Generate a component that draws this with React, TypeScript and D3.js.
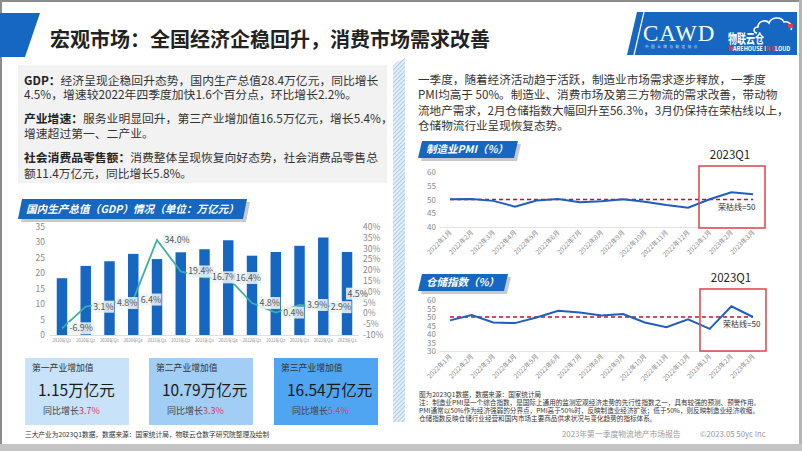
import React from 'react'
import * as d3 from 'd3'

// data
const gdpQuarters = [
  '2020年Q1', '2020年Q2', '2020年Q3', '2020年Q4',
  '2021年Q1', '2021年Q2', '2021年Q3', '2021年Q4',
  '2022年Q1', '2022年Q2', '2022年Q3', '2022年Q4',
  '2023年Q1',
]
const gdpValues = [18.4, 22.4, 23.9, 26.3, 24.6, 26.8, 27.8, 30.7, 25.7, 26.9, 28.9, 31.6, 26.9]
const gdpGrowth = [-6.9, 3.1, 4.8, 6.4, 34.0, 19.4, 16.7, 16.4, 4.8, 0.4, 3.9, 2.9, 4.5]
const gdpLeftTicks = [0, 5, 10, 15, 20, 25, 30, 35]
const gdpRightTicks = [-10, -5, 0, 5, 10, 15, 20, 25, 30, 35, 40]

const months = [
  '2022年1月', '2022年2月', '2022年3月', '2022年4月', '2022年5月', '2022年6月',
  '2022年7月', '2022年8月', '2022年9月', '2022年10月', '2022年11月', '2022年12月',
  '2023年1月', '2023年2月', '2023年3月',
]
const pmiValues = [50.1, 50.2, 49.5, 47.4, 49.6, 50.2, 49.0, 49.4, 50.1, 49.2, 48.0, 47.0, 50.1, 52.6, 51.9]
const pmiTicks = [40, 45, 50, 55, 60]
const warehouseValues = [48.0, 51.1, 46.8, 46.4, 49.7, 53.7, 52.7, 50.9, 51.7, 46.8, 44.0, 48.6, 43.0, 56.3, 50.0]
const warehouseTicks = [30, 35, 40, 45, 50, 55, 60]

const industryNames = ['第一产业增加值', '第二产业增加值', '第三产业增加值']
const industryValues = ['1.15', '10.79', '16.54']
const industryGrowth = ['3.7%', '3.3%', '5.4%']

const FONT = '"Noto Sans CJK SC", "Noto Sans", sans-serif'
const BLUE = '#1667c2'

function Banner({ x, y, w, h, text, size }) {
  const k = 4
  const pts = `${x + k},${y} ${x + w + k},${y} ${x + w},${y + h} ${x},${y + h}`
  const shadow = `${x + k + 3},${y + 3} ${x + w + k + 3},${y + 3} ${x + w + 3},${y + h + 3} ${x + 3},${y + h + 3}`
  return (
    <g>
      <polygon points={shadow} fill="#c9c9c9" />
      <polygon points={pts} fill={BLUE} />
      <text x={x + 8} y={y + h / 2 + size * 0.36} fill="#fff" fontSize={size} fontWeight="bold" fontStyle="italic">
        {text}
      </text>
    </g>
  )
}

function GdpChart() {
  const x = d3.scaleBand().domain(gdpQuarters).range([50.1, 358.9]).paddingInner(0.56).paddingOuter(0.28)
  const yL = d3.scaleLinear().domain([0, 35]).range([335, 227])
  const yR = d3.scaleLinear().domain([-10, 40]).range([335, 227])
  const cx = (q) => x(q) + x.bandwidth() / 2
  const line = d3.line<number>()
    .x((d, i) => cx(gdpQuarters[i]))
    .y((d) => yR(d))
  const last = gdpGrowth.length - 1
  return (
    <g>
      <Banner x={18} y={199} w={225} h={20} text="国内生产总值（GDP）情况（单位：万亿元）" size={10.6} />
      <line x1={50} x2={359} y1={335.5} y2={335.5} stroke="#ddd" />
      {gdpLeftTicks.map((t) => (
        <text key={t} x={45} y={yL(t) + 3} textAnchor="end" fontSize={8.5} fill="#8a8a8a">{t}</text>
      ))}
      {gdpRightTicks.map((t) => (
        <text key={t} x={363} y={yR(t) + 3} fontSize={8.5} fill="#8a8a8a">{t}%</text>
      ))}
      {gdpValues.map((v, i) => (
        <rect key={i} x={x(gdpQuarters[i])} y={yL(v)} width={x.bandwidth()} height={335 - yL(v)} fill={BLUE} />
      ))}
      {gdpQuarters.map((q) => (
        <text key={q} x={cx(q)} y={342} textAnchor="middle" fontSize={4.2} fill="#888">{q}</text>
      ))}
      <path d={line(gdpGrowth)} fill="none" stroke="#3cb1a0" strokeWidth={1.8} />
      {gdpGrowth.map((v, i) => {
        const label = v.toFixed(1) + '%'
        const w = label.length * 4.8 + 3
        // the last label sits above its point, the others to the right
        const px = i === last ? cx(gdpQuarters[i]) - 1 : cx(gdpQuarters[i]) + 6
        const py = i === last ? yR(v) - 10 : yR(v)
        return (
          <g key={i}>
            <rect x={px} y={py - 6} width={w} height={12} fill="rgba(238,244,244,0.88)" />
            <text x={px + 1.5} y={py + 3} fontSize={8.8} fill="#555">{label}</text>
          </g>
        )
      })}
    </g>
  )
}

function IndexChart({ values, ticks, domain, top, bottom, banner, bannerY, bannerW, boxX, boxY, boxH, noteX, noteY }) {
  const x = d3.scalePoint().domain(months).range([450, 753])
  const y = d3.scaleLinear().domain(domain).range([bottom, top])
  const line = d3.line<number>()
    .x((d, i) => x(months[i]))
    .y((d) => y(d))
  return (
    <g>
      <Banner x={418} y={bannerY} w={bannerW} h={17} text={banner} size={10.5} />
      <line x1={440} x2={760} y1={bottom + 0.5} y2={bottom + 0.5} stroke="#e3e3e3" />
      {ticks.map((t) => (
        <text key={t} x={436} y={y(t) + 3} textAnchor="end" fontSize={8} fill="#8a8a8a">{t}</text>
      ))}
      {months.map((m) => (
        <text key={m} transform={`translate(${x(m) + 2},${bottom + 6}) rotate(-45)`} textAnchor="end" fontSize={6.5} fill="#8a8a8a">{m}</text>
      ))}
      <line x1={x(months[0])} x2={x(months[months.length - 1])} y1={y(50)} y2={y(50)} stroke="#c4122f" strokeWidth={1.4} strokeDasharray="4,3" />
      <path d={line(values)} fill="none" stroke="#1e5fbd" strokeWidth={2} />
      <rect x={boxX} y={boxY} width={66} height={boxH} fill="none" stroke="#e0404c" strokeWidth={1.5} />
      <text x={boxX + 31} y={boxY - 7} textAnchor="middle" fontSize={11.5} fill="#222">2023Q1</text>
      <text x={noteX} y={noteY} fontSize={8} fill="#333">荣枯线=50</text>
    </g>
  )
}

function Cloud() {
  return (
    <g fill="none" stroke="#fff" strokeWidth={1.6}>
      <path d="M757,33 C753,33 753,27 758,27 C758,21 766,19 769,23 C771,17 781,16 784,22 C789,21 793,25 791,30" />
      <rect x={788} y={24} width={5} height={4} fill="#e0404c" stroke="none" />
    </g>
  )
}

export default function App() {
  const boxXs = [25, 149, 274]
  const boxFills = ['#c8e2fa', '#a2cef6', '#4fa5f1']
  return (
    <div style={{ position: 'absolute', left: 0, top: 0 }}>
      <svg width={802} height={451} style={{ display: 'block', fontFamily: FONT }}>
        <defs>
          <pattern id="hatch" width={3} height={3} patternUnits="userSpaceOnUse" patternTransform="rotate(45)">
            <rect width={3} height={3} fill="#e4eff9" />
            <line x1={0} y1={0} x2={0} y2={3} stroke="#8fbce4" strokeWidth={1.4} />
          </pattern>
        </defs>
        <rect width={802} height={451} fill="#fff" />
        {/* frame */}
        <rect x={0} y={0} width={802} height={2} fill="#8c8c8c" />
        <rect x={0} y={0} width={2} height={451} fill="#8c8c8c" />
        <rect x={799} y={0} width={3} height={451} fill="#b5b5b5" />
        <rect x={0} y={444} width={802} height={7} fill="#c4c4c4" />

        {/* header */}
        <polygon points="0,13 40,13 25,57 0,57" fill={BLUE} />
        <text x={50} y={47} fontSize={20} fontWeight="bold" fill="#222">宏观市场：全国经济企稳回升，消费市场需求改善</text>
        <polygon points="637,12 797,12 797,55 627,55" fill={BLUE} />
        <line x1={644} y1={12} x2={634} y2={55} stroke="#fff" strokeWidth={1.2} />
        <text x={643} y={41} fontSize={23} fill="#fff" fontFamily='"Liberation Serif", serif' letterSpacing={1}>CAWD</text>
        <text x={645} y={48} fontSize={3.6} fill="#dbe9f8" letterSpacing={2.5}>中国仓储与配送协会</text>
        <Cloud />
        <text x={728} y={43} fontSize={13} fontWeight="bold" fill="#fff" textLength={36} lengthAdjust="spacingAndGlyphs">物联云仓</text>
        <text x={728} y={51} fontSize={5.5} fontWeight="bold" fill="#fff">
          <tspan fill="#e0404c">W</tspan>AREHOUSE I<tspan fill="#e0404c">N</tspan> <tspan fill="#e0404c">C</tspan>LOUD
        </text>

        {/* left summary */}
        <rect x={18} y={65} width={369} height={118} fill="#f2f2f2" />
        <g fontSize={11.8} fill="#333">
          <text x={24} y={85}><tspan fontWeight="bold" fill="#222">GDP：</tspan>经济呈现企稳回升态势，国内生产总值28.4万亿元，同比增长</text>
          <text x={24} y={99}>4.5%，增速较2022年四季度加快1.6个百分点，环比增长2.2%。</text>
          <text x={24} y={123}><tspan fontWeight="bold" fill="#222">产业增速：</tspan>服务业明显回升，第三产业增加值16.5万亿元，增长5.4%，</text>
          <text x={24} y={138}>增速超过第一、二产业。</text>
          <text x={24} y={162}><tspan fontWeight="bold" fill="#222">社会消费品零售额：</tspan>消费整体呈现恢复向好态势，社会消费品零售总</text>
          <text x={24} y={178}>额11.4万亿元，同比增长5.8%。</text>
        </g>

        <GdpChart />

        {industryNames.map((n, i) => (
          <g key={n}>
            <rect x={boxXs[i]} y={358} width={104} height={67} fill={boxFills[i]} />
            <text x={boxXs[i] + 7} y={371} fontSize={8.8} fill="#333">{n}</text>
            <text x={boxXs[i] + 13} y={396} fontSize={15.5} fill="#1a1a1a">{industryValues[i]}万亿元</text>
            <text x={boxXs[i] + 18} y={414} fontSize={9} fill="#444">同比增长<tspan fill="#e3335b">{industryGrowth[i]}</tspan></text>
          </g>
        ))}
        <text x={25} y={437} fontSize={6.7} fill="#333">三大产业为2023Q1数据，数据来源：国家统计局，物联云仓数字研究院整理及绘制</text>

        {/* separator */}
        <polygon points="397,62 405,58 405,422 393,422 393,66" fill="url(#hatch)" />

        {/* right summary */}
        <g fontSize={11.6} fill="#333">
          <text x={418} y={84}>一季度，随着经济活动趋于活跃，制造业市场需求逐步释放，一季度</text>
          <text x={418} y={99}>PMI均高于 50%。制造业、消费市场及第三方物流的需求改善，带动物</text>
          <text x={418} y={114.5}>流地产需求，2月仓储指数大幅回升至56.3%，3月仍保持在荣枯线以上，</text>
          <text x={418} y={130}>仓储物流行业呈现恢复态势。</text>
        </g>

        <IndexChart values={pmiValues} ticks={pmiTicks} domain={[40, 60]} top={172} bottom={227}
          banner="制造业PMI（%）" bannerY={141} bannerW={96} boxX={699} boxY={166} boxH={62} noteX={718} noteY={210} />
        <IndexChart values={warehouseValues} ticks={warehouseTicks} domain={[30, 60]} top={300} bottom={351}
          banner="仓储指数（%）" bannerY={274} bannerW={86} boxX={700} boxY={289} boxH={62} noteX={723} noteY={327} />

        <g fontSize={6.6} fill="#333">
          <text x={419} y={397}>图为2023Q1数据，数据来源：国家统计局</text>
          <text x={419} y={405}>注：制造业PMI是一个综合指数，是国际上通用的监测宏观经济走势的先行性指数之一，具有较强的预测、预警作用。</text>
          <text x={419} y={413}>PMI通常以50%作为经济强弱的分界点，PMI高于50%时，反映制造业经济扩张；低于50%，则反映制造业经济收缩。</text>
          <text x={419} y={421}>仓储指数反映仓储行业经营和国内市场主要商品供求状况与变化趋势的指标体系。</text>
        </g>
        <text x={562} y={437} fontSize={7.8} fill="#9a9a9a">2023年第一季度物流地产市场报告</text>
        <text x={700} y={437} fontSize={7.8} fill="#9a9a9a">©2023.05 50yc Inc</text>
      </svg>
    </div>
  )
}
